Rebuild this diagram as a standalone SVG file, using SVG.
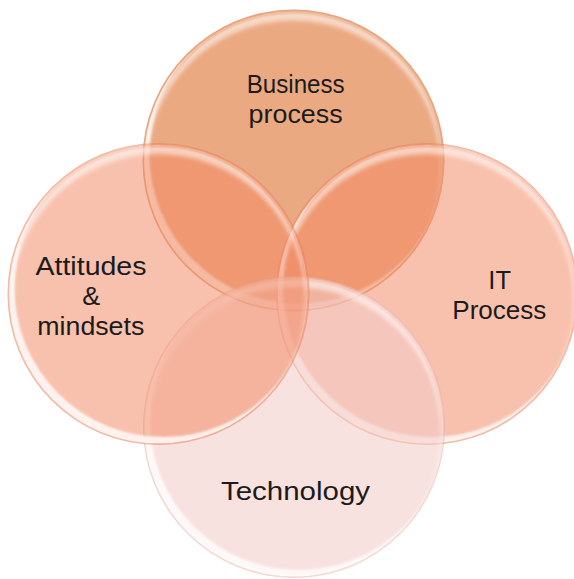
<svg xmlns="http://www.w3.org/2000/svg" width="574" height="579" viewBox="0 0 574 579">
  <style>
    .label { font-family: "Liberation Sans", Arial, sans-serif; font-size: 25.5px; fill: #1b1b1b; text-anchor: middle; }
    .edge { fill: none; stroke: #c27a5c; stroke-opacity: 0.18; stroke-width: 0.8; }
    .rim { fill: #ffffff; }
  </style>
  <defs>
    <filter id="soft" x="-10%" y="-10%" width="120%" height="120%">
      <feGaussianBlur stdDeviation="1.3"/>
    </filter>
    <filter id="softer" x="-10%" y="-10%" width="120%" height="120%">
      <feGaussianBlur stdDeviation="2"/>
    </filter>
    <!-- bright crescent along the lower-left inside edge -->
    <mask id="lowerRim" maskUnits="userSpaceOnUse" x="-160" y="-160" width="320" height="320">
      <circle r="149.3" fill="#fff"/>
      <circle cx="5" cy="-6" r="149" fill="#000" filter="url(#soft)"/>
    </mask>
    <!-- soft sheen just under the top edge -->
    <mask id="topSheen" maskUnits="userSpaceOnUse" x="-160" y="-160" width="320" height="320">
      <circle r="147.5" fill="#fff" filter="url(#soft)"/>
      <circle cy="7" r="147" fill="#000" filter="url(#softer)"/>
    </mask>
    <!-- shared bevel decoration, drawn at the origin -->
    <g id="bevel">
      <circle r="151" class="rim" mask="url(#topSheen)" opacity="0.55"/>
      <circle r="151" class="rim" mask="url(#lowerRim)" opacity="0.8"/>
      <circle r="148.5" fill="none" stroke="#fff" stroke-opacity="0.22" stroke-width="1"/>
      <circle r="150.6" class="edge"/>
    </g>
  </defs>

  <!-- Business process -->
  <g id="node-business">
    <g transform="translate(293.5,160.5)">
      <circle r="151" fill="#eba982"/>
      <use href="#bevel"/>
    </g>
    <text class="label" x="295.7" y="93.3" textLength="98" lengthAdjust="spacingAndGlyphs">Business</text>
    <text class="label" x="295.6" y="122.5" textLength="94" lengthAdjust="spacingAndGlyphs">process</text>
  </g>

  <!-- IT Process -->
  <g id="node-it">
    <g transform="translate(427,294)" opacity="0.53">
      <circle r="151" fill="#f28a64"/>
    </g>
    <g transform="translate(427,294)">
      <use href="#bevel"/>
    </g>
    <text class="label" x="499.7" y="289.3">IT</text>
    <text class="label" x="499.3" y="319.3" textLength="94" lengthAdjust="spacingAndGlyphs">Process</text>
  </g>

  <!-- Technology -->
  <g id="node-technology">
    <g transform="translate(294,427)" opacity="0.55">
      <circle r="151" fill="#f2cac7"/>
    </g>
    <g transform="translate(294,427)">
      <use href="#bevel"/>
    </g>
    <text class="label" x="295.5" y="500" textLength="149" lengthAdjust="spacingAndGlyphs">Technology</text>
  </g>

  <!-- Attitudes & mindsets -->
  <g id="node-attitudes">
    <g transform="translate(158.5,294)" opacity="0.53">
      <circle r="151" fill="#f28a64"/>
    </g>
    <g transform="translate(158.5,294)">
      <use href="#bevel"/>
    </g>
    <text class="label" x="91" y="275" textLength="111" lengthAdjust="spacingAndGlyphs">Attitudes</text>
    <text class="label" x="91.3" y="304.5" textLength="18" lengthAdjust="spacingAndGlyphs">&amp;</text>
    <text class="label" x="90.8" y="334.5" textLength="107" lengthAdjust="spacingAndGlyphs">mindsets</text>
  </g>
</svg>
